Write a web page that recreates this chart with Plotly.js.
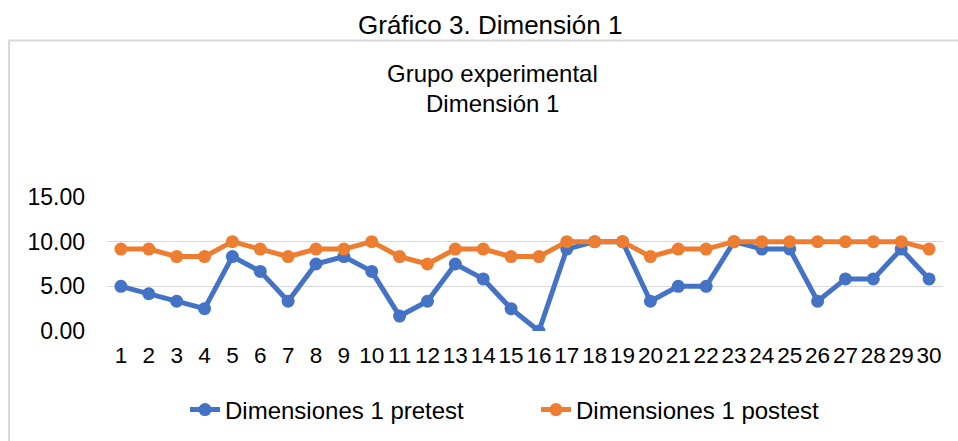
<!DOCTYPE html>
<html>
<head>
<meta charset="utf-8">
<script src="https://cdn.plot.ly/plotly-3.0.1.min.js"></script>
<style>html,body{margin:0;padding:0;background:#fff;}#chart{width:958px;height:441px;}</style>
</head>
<body>
<div id="chart"></div>
<script>
const categories = ["1","2","3","4","5","6","7","8","9","10","11","12","13","14","15","16","17","18","19","20","21","22","23","24","25","26","27","28","29","30"];
const pretest = [5.00,4.17,3.33,2.50,8.33,6.67,3.33,7.50,8.33,6.67,1.67,3.33,7.50,5.83,2.50,0.00,9.17,10.00,10.00,3.33,5.00,5.00,10.00,9.17,9.17,3.33,5.83,5.83,9.17,5.83];
const postest = [9.17,9.17,8.33,8.33,10.00,9.17,8.33,9.17,9.17,10.00,8.33,7.50,9.17,9.17,8.33,8.33,10.00,10.00,10.00,8.33,9.17,9.17,10.00,10.00,10.00,10.00,10.00,10.00,10.00,9.17];
const seriesNames = ["Dimensiones 1 pretest","Dimensiones 1 postest"];
const yTicks = [0,5,10,15];
const yTickLabels = ["0.00","5.00","10.00","15.00"];

const W = 958, H = 441;
const L = 107, R = 943, T = 197, B = 331;
const px = x => (x - L) / (R - L);
const py = y => (B - y) / (B - T);
const font = "Liberation Sans, Arial, sans-serif";

const traces = [
  {x: categories, y: pretest, name: seriesNames[0], type: "scatter", mode: "lines+markers", legend: "legend",
   line: {color: "#4472C4", width: 5}, marker: {color: "#4472C4", size: 13}},
  {x: categories, y: postest, name: seriesNames[1], type: "scatter", mode: "lines+markers", legend: "legend2",
   line: {color: "#ED7D31", width: 5}, marker: {color: "#ED7D31", size: 13}}
];

const legendBase = {orientation: "h", xanchor: "left", yanchor: "middle", y: py(410),
                    font: {family: font, size: 24, color: "#000"}, bgcolor: "rgba(0,0,0,0)"};

const layout = {
  width: W, height: H,
  margin: {l: L, r: W - R, t: T, b: H - B, autoexpand: false},
  paper_bgcolor: "#ffffff", plot_bgcolor: "#ffffff",
  font: {family: font, color: "#000000", size: 23},
  showlegend: true,
  legend: Object.assign({}, legendBase, {x: px(185)}),
  legend2: Object.assign({}, legendBase, {x: px(536)}),
  xaxis: {type: "category", showgrid: false, zeroline: false, showline: false,
          tickmode: "array", tickvals: categories, ticktext: categories,
          ticks: "", tickfont: {family: font, size: 22.5, color: "#000"}, tickangle: 0,
          ticklabelstandoff: 8, range: [-0.5, 29.5], fixedrange: true},
  yaxis: {range: [0, 15], tickvals: yTicks, ticktext: yTickLabels, showgrid: true,
          gridcolor: "#d9d9d9", gridwidth: 1.5, zeroline: false, showline: false, ticks: "",
          tickfont: {family: font, size: 23, color: "#000"}, ticklabelstandoff: 21, fixedrange: true},
  shapes: [
    {type: "line", xref: "paper", yref: "paper", x0: px(9), x1: px(960), y0: py(40.5), y1: py(40.5),
     line: {color: "#d9d9d9", width: 2}},
    {type: "line", xref: "paper", yref: "paper", x0: px(9), x1: px(9), y0: py(40.5), y1: py(445),
     line: {color: "#d9d9d9", width: 2}}
  ],
  annotations: [
    {text: "Gráfico 3. Dimensión 1", xref: "paper", yref: "paper", x: px(490), y: py(25),
     xanchor: "center", yanchor: "middle", showarrow: false, font: {family: font, size: 26, color: "#000"}},
    {text: "Grupo experimental", xref: "paper", yref: "paper", x: px(492), y: py(74),
     xanchor: "center", yanchor: "middle", showarrow: false, font: {family: font, size: 24, color: "#000"}},
    {text: "Dimensión 1", xref: "paper", yref: "paper", x: px(492), y: py(103),
     xanchor: "center", yanchor: "middle", showarrow: false, font: {family: font, size: 24, color: "#000"}}
  ]
};

Plotly.newPlot("chart", traces, layout, {displayModeBar: false, staticPlot: true});
</script>
</body>
</html>
